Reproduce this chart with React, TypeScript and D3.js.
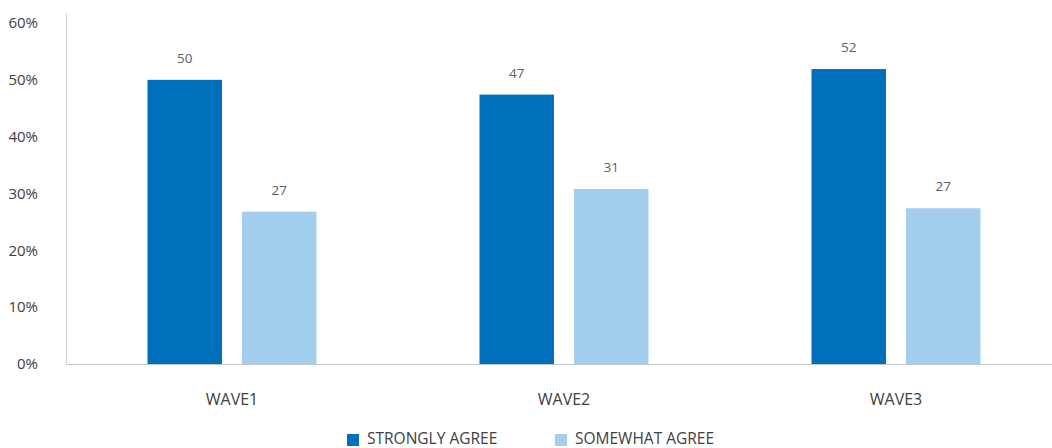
import React from "react";
import * as d3 from "d3";

const categories = ["WAVE1", "WAVE2", "WAVE3"];
const seriesNames = ["STRONGLY AGREE", "SOMEWHAT AGREE"];
const stronglyAgree = [50.0, 47.4, 51.9];
const somewhatAgree = [26.8, 30.8, 27.4];
const yTicks = [0, 10, 20, 30, 40, 50, 60];
const colors = ["#0070BA", "#A3CEEE"];

const W = 1052;
const H = 448;
const FONT = "'Open Sans', sans-serif";

export default function App() {
  const x0 = d3.scaleBand<string>().domain(categories).range([66, 1062]);
  const x1 = d3
    .scaleBand<string>()
    .domain(seriesNames)
    .range([-84.5, 84.5])
    .paddingInner(20 / 94.5);
  const y = d3.scaleLinear().domain([0, 60]).range([364, 23]);
  const seriesValues = [stronglyAgree, somewhatAgree];

  return (
    <div style={{ position: "fixed", left: 0, top: 0 }}>
      <svg width={W} height={H} style={{ display: "block", background: "#fff" }}>
        {yTicks.map((t) => (
          <text
            key={t}
            x={38}
            y={y(t)}
            dy="0.35em"
            textAnchor="end"
            fontFamily={FONT}
            fontSize={15}
            fill="#404040"
          >
            {d3.format(".0%")(t / 100)}
          </text>
        ))}
        {categories.map((c, i) => {
          const cx = (x0(c) as number) + x0.bandwidth() / 2;
          return (
            <g key={c}>
              {seriesNames.map((s, j) => {
                const v = seriesValues[j][i];
                const bx = cx + (x1(s) as number);
                return (
                  <g key={s}>
                    <rect
                      x={bx}
                      y={y(v)}
                      width={x1.bandwidth()}
                      height={y(0) - y(v)}
                      fill={colors[j]}
                    />
                    <text
                      x={bx + x1.bandwidth() / 2}
                      y={y(v) - 17}
                      textAnchor="middle"
                      fontFamily={FONT}
                      fontSize={13.5}
                      fill="#5a606b"
                    >
                      {Math.round(v)}
                    </text>
                  </g>
                );
              })}
              <text
                x={cx}
                y={405}
                textAnchor="middle"
                fontFamily={FONT}
                fontSize={16}
                fill="#404040"
              >
                {c}
              </text>
            </g>
          );
        })}
        <line x1={66.5} x2={66.5} y1={13} y2={364} stroke="#d0d0d0" strokeWidth={1} />
        <line x1={66} x2={W} y1={364.5} y2={364.5} stroke="#c8c8c8" strokeWidth={1} />
        {seriesNames.map((s, j) => {
          const lx = [347, 555][j];
          return (
            <g key={s}>
              <rect x={lx} y={434} width={12} height={12} fill={colors[j]} />
              <text
                x={lx + 20}
                y={444}
                fontFamily={FONT}
                fontSize={15.5}
                fill="#404040"
              >
                {s}
              </text>
            </g>
          );
        })}
      </svg>
    </div>
  );
}
